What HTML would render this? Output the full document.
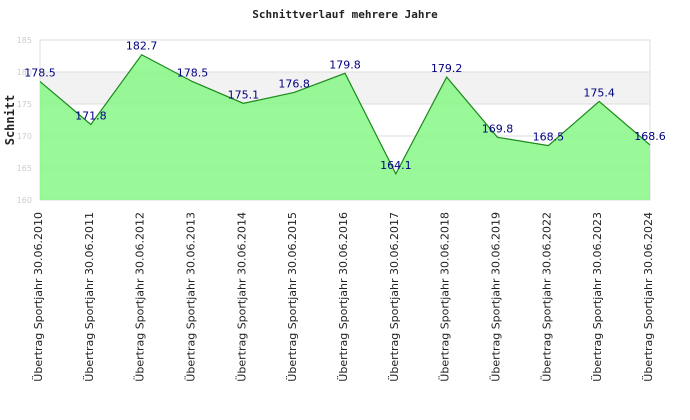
<!DOCTYPE html>
<html><head><meta charset="utf-8"><style>
body{margin:0;background:#fff}
svg{display:block}
</style></head><body>
<svg id="chart" width="690" height="420" xmlns="http://www.w3.org/2000/svg">
<text x="345" y="18" text-anchor="middle" font-family="DejaVu Sans Mono, Liberation Mono, monospace" font-weight="bold" font-size="11" fill="#222">Schnittverlauf mehrere Jahre</text>
<text transform="translate(14,120) rotate(-90)" text-anchor="middle" font-family="DejaVu Sans Mono, Liberation Mono, monospace" font-weight="bold" font-size="12" fill="#222">Schnitt</text>
<g id="grid"></g>
<g id="marks"></g>
<g id="labels"></g>
</svg>
<script>
const categories=["Übertrag Sportjahr 30.06.2010","Übertrag Sportjahr 30.06.2011","Übertrag Sportjahr 30.06.2012","Übertrag Sportjahr 30.06.2013","Übertrag Sportjahr 30.06.2014","Übertrag Sportjahr 30.06.2015","Übertrag Sportjahr 30.06.2016","Übertrag Sportjahr 30.06.2017","Übertrag Sportjahr 30.06.2018","Übertrag Sportjahr 30.06.2019","Übertrag Sportjahr 30.06.2022","Übertrag Sportjahr 30.06.2023","Übertrag Sportjahr 30.06.2024"];
const values=[178.5,171.8,182.7,178.5,175.1,176.8,179.8,164.1,179.2,169.8,168.5,175.4,168.6];
const yTicks=[160,165,170,175,180,185];
const yMin=160,yMax=185;
const L=40,R=650,T=40,B=200;
const NS="http://www.w3.org/2000/svg";
const x=i=>L+i*(R-L)/(categories.length-1);
const y=v=>B-(v-yMin)/(yMax-yMin)*(B-T);
function mk(tag,attrs,parent){const e=document.createElementNS(NS,tag);for(const k in attrs)e.setAttribute(k,attrs[k]);parent.appendChild(e);return e;}
const grid=document.getElementById('grid'),marks=document.getElementById('marks'),labels=document.getElementById('labels');
const band=mk('rect',{x:L,y:y(180),width:R-L,height:y(175)-y(180),fill:'#f2f2f2'},grid);


yTicks.forEach(t=>{
  const ln=mk('line',{x1:L,x2:R,y1:y(t),y2:y(t),stroke:'#dddddd','stroke-width':1},grid);
  
  
  const tx=mk('text',{x:L-8,y:y(t)+3,'text-anchor':'end','font-family':'DejaVu Sans, sans-serif','font-size':'8',fill:'#cccccc'},grid);
  tx.textContent=t;
  
  
});
const frame=mk('rect',{x:L,y:T,width:R-L,height:B-T,fill:'none',stroke:'#dddddd'},grid);


let pts=values.map((v,i)=>x(i)+','+y(v)).join(' ');
const area=mk('polygon',{points:x(0)+','+B+' '+pts+' '+x(values.length-1)+','+B,fill:'#80f880','fill-opacity':'0.8'},marks);


const line=mk('polyline',{points:pts,fill:'none',stroke:'#1a8a1a','stroke-width':1.2},marks);


values.forEach((v,i)=>{
  const t=mk('text',{x:x(i),y:y(v)-5,'text-anchor':'middle','font-family':'DejaVu Sans, sans-serif','font-size':'11',fill:'#000080'},labels);
  t.textContent=v.toFixed(1);
  
  
});
categories.forEach((c,i)=>{
  const t=mk('text',{transform:'translate('+(x(i)+2)+',212) rotate(-90)','text-anchor':'end','font-family':'DejaVu Sans, sans-serif','font-size':'11',fill:'#222'},labels);
  t.textContent=c;
  
  
});
</script>
</body></html>
